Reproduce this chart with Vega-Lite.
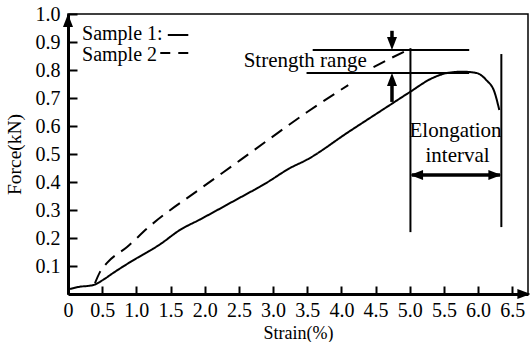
{
  "$schema": "https://vega.github.io/schema/vega-lite/v6.json",
  "width": 460,
  "height": 280,
  "autosize": "none",
  "padding": {"left": 68, "top": 14, "right": 2, "bottom": 48},
  "background": "white",
  "config": {
    "view": {"stroke": "black", "strokeWidth": 1.5},
    "font": "Liberation Serif",
    "axis": {"labelOverlap": false, "labelSeparation": 0}
  },
  "datasets": {
    "curves": [
      {"strain": 0.03, "force": 0.018, "sample": "Sample 1", "part": "a"},
      {"strain": 0.15, "force": 0.025, "sample": "Sample 1", "part": "a"},
      {"strain": 0.37, "force": 0.032, "sample": "Sample 1", "part": "a"},
      {"strain": 0.51, "force": 0.05, "sample": "Sample 1", "part": "a"},
      {"strain": 0.66, "force": 0.075, "sample": "Sample 1", "part": "a"},
      {"strain": 0.91, "force": 0.114, "sample": "Sample 1", "part": "a"},
      {"strain": 1.35, "force": 0.178, "sample": "Sample 1", "part": "a"},
      {"strain": 1.64, "force": 0.229, "sample": "Sample 1", "part": "a"},
      {"strain": 1.93, "force": 0.266, "sample": "Sample 1", "part": "a"},
      {"strain": 2.41, "force": 0.33, "sample": "Sample 1", "part": "a"},
      {"strain": 2.91, "force": 0.398, "sample": "Sample 1", "part": "a"},
      {"strain": 3.25, "force": 0.45, "sample": "Sample 1", "part": "a"},
      {"strain": 3.49, "force": 0.479, "sample": "Sample 1", "part": "a"},
      {"strain": 4.1, "force": 0.578, "sample": "Sample 1", "part": "a"},
      {"strain": 4.71, "force": 0.675, "sample": "Sample 1", "part": "a"},
      {"strain": 5.0, "force": 0.721, "sample": "Sample 1", "part": "a"},
      {"strain": 5.33, "force": 0.771, "sample": "Sample 1", "part": "a"},
      {"strain": 5.54, "force": 0.789, "sample": "Sample 1", "part": "a"},
      {"strain": 5.77, "force": 0.794, "sample": "Sample 1", "part": "a"},
      {"strain": 5.98, "force": 0.789, "sample": "Sample 1", "part": "a"},
      {"strain": 6.12, "force": 0.764, "sample": "Sample 1", "part": "a"},
      {"strain": 6.24, "force": 0.721, "sample": "Sample 1", "part": "a"},
      {"strain": 6.31, "force": 0.657, "sample": "Sample 1", "part": "a"},
      {"strain": 0.395, "force": 0.039, "sample": "Sample 2", "part": "a"},
      {"strain": 0.469, "force": 0.079, "sample": "Sample 2", "part": "a"},
      {"strain": 0.571, "force": 0.111, "sample": "Sample 2", "part": "a"},
      {"strain": 0.864, "force": 0.168, "sample": "Sample 2", "part": "a"},
      {"strain": 1.2, "force": 0.243, "sample": "Sample 2", "part": "a"},
      {"strain": 1.93, "force": 0.375, "sample": "Sample 2", "part": "a"},
      {"strain": 2.52, "force": 0.478, "sample": "Sample 2", "part": "a"},
      {"strain": 2.96, "force": 0.556, "sample": "Sample 2", "part": "a"},
      {"strain": 3.5, "force": 0.65, "sample": "Sample 2", "part": "a"},
      {"strain": 4.1, "force": 0.746, "sample": "Sample 2", "part": "a"},
      {"strain": 4.47, "force": 0.81, "sample": "Sample 2", "part": "b"},
      {"strain": 4.57, "force": 0.823, "sample": "Sample 2", "part": "b"},
      {"strain": 5.0, "force": 0.875, "sample": "Sample 2", "part": "b"}
    ],
    "thin": [
      {"strain": 3.58, "strain2": 5.87, "force": 0.871, "force2": 0.871},
      {"strain": 3.49, "strain2": 5.87, "force": 0.789, "force2": 0.789},
      {"strain": 5.01, "strain2": 5.01, "force": 0.878, "force2": 0.221},
      {"strain": 6.34, "strain2": 6.34, "force": 0.857, "force2": 0.239},
      {"strain": 1.46, "strain2": 1.76, "force": 0.925, "force2": 0.925}
    ],
    "dashkey": [
      {"strain": 1.35, "strain2": 1.76, "force": 0.861, "force2": 0.861}
    ],
    "thick": [
      {"strain": 4.74, "strain2": 4.74, "force": 0.686, "force2": 0.77},
      {"strain": 4.74, "strain2": 4.74, "force": 0.94, "force2": 0.9},
      {"strain": 5.03, "strain2": 6.32, "force": 0.425, "force2": 0.425}
    ],
    "heads": [
      {"strain": 0, "force": 0.977, "dir": "up"},
      {"strain": 6.67, "force": 0, "dir": "right"},
      {"strain": 4.74, "force": 0.895, "dir": "down"},
      {"strain": 4.74, "force": 0.766, "dir": "up"},
      {"strain": 5.1, "force": 0.425, "dir": "left"},
      {"strain": 6.245, "force": 0.425, "dir": "right"}
    ],
    "keytext": [
      {"strain": 0.205, "force": 0.907, "label": "Sample 1:"},
      {"strain": 0.205, "force": 0.832, "label": "Sample 2"}
    ],
    "notes": [
      {"strain": 3.47, "force": 0.811, "label": "Strength range"},
      {"strain": 5.67, "force": 0.561, "label": "Elongation"},
      {"strain": 5.7, "force": 0.471, "label": "interval"}
    ]
  },
  "layer": [
    {
      "data": {"name": "curves"},
      "mark": {"type": "line", "color": "black", "strokeWidth": 2, "interpolate": "monotone"},
      "encoding": {
        "x": {
          "field": "strain", "type": "quantitative",
          "scale": {"domain": [0, 6.73], "nice": false, "zero": false},
          "axis": {
            "title": "Strain(%)",
            "values": [0, 0.5, 1, 1.5, 2, 2.5, 3, 3.5, 4, 4.5, 5, 5.5, 6, 6.5],
            "tickCount": 40,
            "labelExpr": "datum.value == 0 ? '0' : format(datum.value, '.1f')",
            "labelOverlap": false, "labelSeparation": 0, "labelFlush": false, "labelBound": false,
            "labelFont": "Liberation Serif", "labelFontSize": 20, "labelColor": "black",
            "labelPadding": 14,
            "tickSize": -8, "tickWidth": 2, "tickColor": "black",
            "domainColor": "black", "domainWidth": 3,
            "grid": false,
            "titleFont": "Liberation Serif", "titleFontSize": 18, "titleFontWeight": "normal", "titleColor": "black",
            "titleY": 44, "titleBaseline": "alphabetic"
          }
        },
        "y": {
          "field": "force", "type": "quantitative",
          "scale": {"domain": [0, 1], "nice": false},
          "axis": {
            "title": "Force(kN)",
            "values": [0.1, 0.2, 0.3, 0.4, 0.5, 0.6, 0.7, 0.8, 0.9, 1.0],
            "tickCount": 40,
            "format": ".1f",
            "labelOverlap": false, "labelSeparation": 0, "labelFlush": false, "labelBound": false,
            "labelFont": "Liberation Serif", "labelFontSize": 20, "labelColor": "black",
            "labelPadding": 17,
            "tickSize": -9, "tickWidth": 2, "tickColor": "black",
            "domainColor": "black", "domainWidth": 3,
            "grid": false,
            "titleFont": "Liberation Serif", "titleFontSize": 19.5, "titleFontWeight": "normal", "titleColor": "black",
            "titlePadding": 11
          }
        },
        "strokeDash": {
          "field": "sample", "type": "nominal",
          "scale": {"domain": ["Sample 1", "Sample 2"], "range": [[1, 0], [13, 8]]},
          "legend": null
        },
        "detail": {"field": "part", "type": "nominal"}
      }
    },
    {
      "data": {"name": "thin"},
      "mark": {"type": "rule", "color": "black", "strokeWidth": 2},
      "encoding": {
        "x": {"field": "strain", "type": "quantitative"},
        "x2": {"field": "strain2"},
        "y": {"field": "force", "type": "quantitative"},
        "y2": {"field": "force2"}
      }
    },
    {
      "data": {"name": "dashkey"},
      "mark": {"type": "rule", "color": "black", "strokeWidth": 2, "strokeDash": [10, 8]},
      "encoding": {
        "x": {"field": "strain", "type": "quantitative"},
        "x2": {"field": "strain2"},
        "y": {"field": "force", "type": "quantitative"},
        "y2": {"field": "force2"}
      }
    },
    {
      "data": {"name": "thick"},
      "mark": {"type": "rule", "color": "black", "strokeWidth": 3.5},
      "encoding": {
        "x": {"field": "strain", "type": "quantitative"},
        "x2": {"field": "strain2"},
        "y": {"field": "force", "type": "quantitative"},
        "y2": {"field": "force2"}
      }
    },
    {
      "data": {"name": "heads"},
      "mark": {"type": "point", "filled": true, "color": "black", "opacity": 1, "size": 169, "clip": false},
      "encoding": {
        "x": {"field": "strain", "type": "quantitative"},
        "y": {"field": "force", "type": "quantitative"},
        "shape": {
          "field": "dir", "type": "nominal",
          "scale": {
            "domain": ["up", "down", "left", "right"],
            "range": ["M0,-1L0.77,1L-0.77,1Z", "M0,1L0.77,-1L-0.77,-1Z", "M-1,0L1,-0.77L1,0.77Z", "M1,0L-1,-0.77L-1,0.77Z"]
          },
          "legend": null
        }
      }
    },
    {
      "data": {"name": "keytext"},
      "mark": {"type": "text", "align": "left", "baseline": "alphabetic", "font": "Liberation Serif", "fontSize": 20, "color": "black"},
      "encoding": {
        "x": {"field": "strain", "type": "quantitative"},
        "y": {"field": "force", "type": "quantitative"},
        "text": {"field": "label"}
      }
    },
    {
      "data": {"name": "notes"},
      "mark": {"type": "text", "align": "center", "baseline": "alphabetic", "font": "Liberation Serif", "fontSize": 21, "color": "black"},
      "encoding": {
        "x": {"field": "strain", "type": "quantitative"},
        "y": {"field": "force", "type": "quantitative"},
        "text": {"field": "label"}
      }
    }
  ]
}
